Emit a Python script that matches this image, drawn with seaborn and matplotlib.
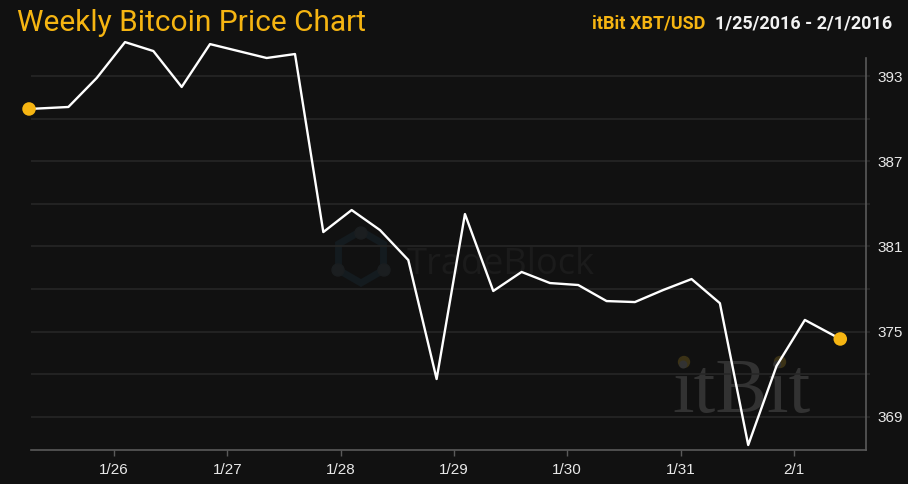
import pandas as pd
import matplotlib.pyplot as plt
import matplotlib.dates as mdates
from matplotlib.ticker import FuncFormatter, MultipleLocator
from matplotlib.patches import RegularPolygon, Circle
import seaborn as sns

# ---------- Data (6-hour samples) ----------
times = [
    "2016-01-25 06:00", "2016-01-25 14:20", "2016-01-25 20:20",
    "2016-01-26 02:20", "2016-01-26 08:20", "2016-01-26 14:20", "2016-01-26 20:20",
    "2016-01-27 02:20", "2016-01-27 08:20", "2016-01-27 14:20", "2016-01-27 20:20",
    "2016-01-28 02:20", "2016-01-28 08:20", "2016-01-28 14:20", "2016-01-28 20:20",
    "2016-01-29 02:20", "2016-01-29 08:20", "2016-01-29 14:20", "2016-01-29 20:20",
    "2016-01-30 02:20", "2016-01-30 08:20", "2016-01-30 14:20", "2016-01-30 20:20",
    "2016-01-31 02:20", "2016-01-31 08:20", "2016-01-31 14:20", "2016-01-31 20:20",
    "2016-02-01 02:20", "2016-02-01 09:50",
]
prices = [
    390.68, 390.82, 392.86,
    395.39, 394.76, 392.23, 395.25,
    394.76, 394.27, 394.55, 382.01,
    383.56, 382.15, 380.04, 371.66,
    383.28, 377.86, 379.20, 378.42,
    378.28, 377.15, 377.08, 377.93,
    378.70, 377.00, 367.01, 372.58,
    375.82, 374.48,
]
y_labels = [369, 375, 381, 387, 393]

title = "Weekly Bitcoin Price Chart"
pair_label = "itBit XBT/USD"
range_label = "1/25/2016 - 2/1/2016"

df = pd.DataFrame({"time": pd.to_datetime(times), "price": prices})

# ---------- Style ----------
bg = "#111111"
yellow = "#F6B512"
grid_col = "#262626"
spine_col = "#5a5a5a"

sns.set_style("dark", {"axes.facecolor": "none", "figure.facecolor": bg})
plt.rcParams["font.family"] = ["Liberation Sans", "DejaVu Sans"]

fig = plt.figure(figsize=(9.08, 4.84), dpi=100, facecolor=bg)

# background layer in pixel coords for the watermarks
bgax = fig.add_axes([0, 0, 1, 1], zorder=0)
bgax.set_xlim(0, 908)
bgax.set_ylim(484, 0)
bgax.axis("off")

hexc = "#141b1f"
bgax.add_patch(RegularPolygon((361, 257), 6, radius=26, orientation=0,
                              fill=False, ec=hexc, lw=5))
for cx, cy in [(361, 233), (338, 270), (384, 270)]:
    bgax.add_patch(Circle((cx, cy), 6, color="#1b1e20"))
bgax.text(407, 274, "TradeBlock", fontsize=26, color="#1b1b1b",
          family=["Open Sans", "DejaVu Sans"], va="baseline")

bgax.text(672, 412, "itBit", fontsize=56, color="#323232",
          family=["Liberation Serif", "DejaVu Serif"], va="baseline")
for cx in [684, 780]:
    bgax.add_patch(Circle((cx, 362), 5.5, color="#3b3216"))

# ---------- Main chart ----------
ax = fig.add_axes([31 / 908, 34 / 484, 835 / 908, 392 / 484], zorder=1)
ax.set_facecolor("none")

sns.lineplot(data=df, x="time", y="price", ax=ax, color="white", linewidth=1.7)
for ln in ax.lines:
    ln.set_clip_on(False)

ends = df.iloc[[0, -1]]
sns.scatterplot(data=ends, x="time", y="price", ax=ax, color=yellow, s=95,
                edgecolor="none", zorder=5, clip_on=False)

ax.set_xlim(pd.Timestamp("2016-01-25 06:25"), pd.Timestamp("2016-02-01 15:17"))
ax.set_ylim(366.66, 394.27)

ax.yaxis.tick_right()
ax.set_yticks(y_labels)
ax.yaxis.set_minor_locator(MultipleLocator(3))
ax.grid(True, which="both", axis="y", color=grid_col, linewidth=1.2)
ax.grid(False, axis="x")
ax.tick_params(axis="y", which="both", length=3, color=grid_col, width=1.2,
               labelsize=11, labelcolor="#e8e8e8", pad=5, right=True, left=False)
ax.tick_params(axis="y", which="minor", labelright=False)

ax.xaxis.set_major_locator(mdates.DayLocator())
ax.xaxis.set_major_formatter(FuncFormatter(
    lambda v, p: f"{mdates.num2date(v).month}/{mdates.num2date(v).day}"))
ax.tick_params(axis="x", length=4, color=spine_col, width=1,
               labelsize=11, labelcolor="#e8e8e8", pad=5, bottom=True)

ax.set_xlabel("")
ax.set_ylabel("")
for side in ["top", "left"]:
    ax.spines[side].set_visible(False)
for side in ["right", "bottom"]:
    ax.spines[side].set_visible(True)
    ax.spines[side].set_color(spine_col)
    ax.spines[side].set_linewidth(1.2)

# ---------- Header ----------
fig.text(17 / 908, 1 - 31 / 484, title, fontsize=21.5, color=yellow,
         family=["Roboto", "DejaVu Sans"], va="baseline")
fig.text(892 / 908, 1 - 28 / 484, range_label, fontsize=13, color="#f2f2f2",
         family=["Roboto", "DejaVu Sans"], weight="bold", va="baseline", ha="right")
fig.text(705 / 908, 1 - 28 / 484, pair_label, fontsize=13, color=yellow,
         family=["Roboto", "DejaVu Sans"], weight="bold", va="baseline", ha="right")

fig.savefig("out.png", dpi=100, facecolor=bg)
